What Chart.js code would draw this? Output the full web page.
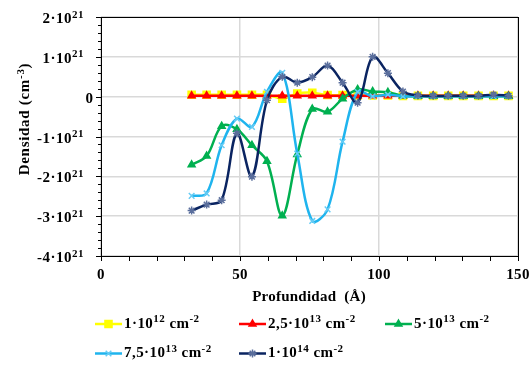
<!DOCTYPE html>
<html lang="es">
<head>
<meta charset="UTF-8">
<title>Densidad vs profundidad</title>
<script src="https://cdn.jsdelivr.net/npm/chart.js"></script>
<style>
  html, body { margin: 0; padding: 0; background: #fff; }
  #wrap { width: 529px; height: 365px; position: relative; }
</style>
</head>
<body>
<div id="wrap"><canvas id="chart" width="529" height="365"></canvas></div>
<script>
// depth in Å (one Si lattice constant apart)
const depth = [32.6, 38.0, 43.4, 48.9, 54.3, 59.7, 65.2, 70.6, 76.0, 81.5, 86.9,
               92.3, 97.7, 103.2, 108.6, 114.0, 119.5, 124.9, 130.3, 135.8, 141.2, 146.6];

// densities in units of 10^21 cm^-3
const dose1e12  = [0.05, 0.05, 0.05, 0.05, 0.05, 0.05, -0.05, 0.08, 0.10, 0.04, 0.04,
                   0.03, 0.03, 0.03, 0.02, 0.02, 0.02, 0.02, 0.02, 0.02, 0.02, 0.02];
const dose25e13 = [0.02, 0.02, 0.02, 0.02, 0.02, 0.02, 0.02, 0.02, 0.02, 0.02, 0.02,
                   0.02, 0.02, 0.02, 0.02, 0.02, 0.02, 0.02, 0.02, 0.02, 0.02, 0.02];
const dose5e13  = [-1.71, -1.49, -0.74, -0.82, -1.22, -1.62, -2.99, -1.45, -0.31, -0.38, -0.05,
                   0.18, 0.13, 0.11, 0.02, 0.01, 0.01, 0.01, 0.01, 0.01, 0.01, 0.01];
const dose75e13 = [-2.49, -2.43, -1.22, -0.55, -0.76, 0.12, 0.60, -1.43, -3.12, -2.83, -1.13,
                   0.12, 0.01, 0.05, 0.01, 0.01, 0.01, 0.01, 0.01, 0.01, 0.01, 0.01];
const dose1e14  = [-2.86, -2.71, -2.60, -0.92, -2.01, -0.09, 0.50, 0.35, 0.49, 0.78, 0.35,
                   -0.15, 1.00, 0.59, 0.13, 0.03, 0.02, 0.02, 0.02, 0.02, 0.05, 0.02];

const xTicks = [0, 50, 100, 150];
const yTicks = [2, 1, 0, -1, -2, -3, -4];

// legend text: [text, superscript] pairs
const legendLabels = [
  [['1·10', ''], ['12', 'sup'], [' cm', ''], ['-2', 'sup']],
  [['2,5·10', ''], ['13', 'sup'], [' cm', ''], ['-2', 'sup']],
  [['5·10', ''], ['13', 'sup'], [' cm', ''], ['-2', 'sup']],
  [['7,5·10', ''], ['13', 'sup'], [' cm', ''], ['-2', 'sup']],
  [['1·10', ''], ['14', 'sup'], [' cm', ''], ['-2', 'sup']]
];

const SERIF = '"Liberation Serif", "Times New Roman", serif';

function pts(ys) {
  return depth.map((x, i) => ({ x: x, y: ys[i] }));
}

const series = [
  { data: dose1e12,  color: '#FFFF00', marker: 'rect',     r: 5,   mColor: '#FFFF00' },
  { data: dose25e13, color: '#FF0000', marker: 'triangle', r: 4,   mColor: '#FF0000' },
  { data: dose5e13,  color: '#00B050', marker: 'triangle', r: 4,   mColor: '#00B050' },
  { data: dose75e13, color: '#1FB4EE', marker: 'crossRot', r: 4,   mColor: '#66CCF5' },
  { data: dose1e14,  color: '#0A2461', marker: 'star',     r: 4,   mColor: '#5A6E9C' }
];

// draws text with superscript runs; returns total width
function drawRich(ctx, parts, x, y, align, size, supSize, spacing) {
  const base = 'bold ' + size + 'px ' + SERIF;
  const sup = 'bold ' + supSize + 'px ' + SERIF;
  ctx.letterSpacing = (spacing || 0) + 'px';
  let w = 0;
  parts.forEach(p => { ctx.font = p[1] ? sup : base; w += ctx.measureText(p[0]).width; });
  let cx = align === 'right' ? x - w : align === 'center' ? x - w / 2 : x;
  ctx.textBaseline = 'alphabetic';
  ctx.textAlign = 'left';
  parts.forEach(p => {
    ctx.font = p[1] ? sup : base;
    const dy = p[1] ? -size * 0.36 : 0;
    ctx.fillText(p[0], cx, y + dy);
    cx += ctx.measureText(p[0]).width;
  });
  ctx.letterSpacing = '0px';
  return w;
}

const decorPlugin = {
  id: 'decor',
  afterDraw(chart) {
    const ctx = chart.ctx;
    const a = chart.chartArea;
    const xs = chart.scales.x, ys = chart.scales.y;
    ctx.save();
    ctx.strokeStyle = '#000';
    ctx.lineWidth = 1;
    ctx.strokeRect(a.left + 0.5, a.top + 0.5, a.right - a.left, a.bottom - a.top);

    // tick marks
    ctx.beginPath();
    for (let v = 0; v <= 150; v += 10) {
      const px = Math.round(xs.getPixelForValue(v)) + 0.5;
      ctx.moveTo(px, a.bottom);
      ctx.lineTo(px, a.bottom + 5);
    }
    for (let k = -20; k <= 10; k++) {
      const py = Math.round(ys.getPixelForValue(k / 5)) + 0.5;
      const len = k % 5 === 0 ? 5 : 3;
      ctx.moveTo(a.left - len, py);
      ctx.lineTo(a.left, py);
    }
    ctx.stroke();

    ctx.fillStyle = '#000';
    // y labels
    yTicks.forEach(v => {
      const py = ys.getPixelForValue(v) + 6;
      if (v === 0) {
        drawRich(ctx, [['0', '']], 93, py, 'right', 15, 11, 0);
      } else {
        drawRich(ctx, [[(v < 0 ? '-' : '') + Math.abs(v) + '·10', ''], ['21', 'sup']], 84, py, 'right', 15, 11, 0.5);
      }
    });
    // x labels
    xTicks.forEach(v => {
      drawRich(ctx, [[String(v), '']], xs.getPixelForValue(v), 279, 'center', 15, 11, 0.3);
    });

    // axis titles
    drawRich(ctx, [['Profundidad  (Å)', '']], 309, 301, 'center', 15, 11, 0.25);
    ctx.save();
    ctx.translate(29, 119);
    ctx.rotate(-Math.PI / 2);
    drawRich(ctx, [['Densidad (cm', ''], ['-3', 'sup'], [')', '']], 0, 0, 'center', 15, 11, 0.7);
    ctx.restore();

    // legend
    const slots = [[95, 327.5], [239, 327.5], [385, 327.5], [95, 357], [239, 357]];
    series.forEach((s, i) => {
      const [lx, ly] = slots[i];
      const cy = ly - 3.5;
      ctx.strokeStyle = s.color;
      ctx.lineWidth = 2.5;
      ctx.beginPath();
      ctx.moveTo(lx, cy);
      ctx.lineTo(lx + 27, cy);
      ctx.stroke();
      ctx.lineWidth = 1.5;
      ctx.strokeStyle = s.mColor;
      ctx.fillStyle = s.mColor;
      Chart.helpers.drawPoint(ctx, { pointStyle: s.marker, radius: s.r, borderWidth: 1.5 }, lx + 13.5, cy);
      ctx.fillStyle = '#000';
      drawRich(ctx, legendLabels[i], lx + 29, ly, 'left', 15, 11, 0.45);
    });
    ctx.restore();
  }
};

new Chart(document.getElementById('chart'), {
  type: 'scatter',
  data: {
    datasets: series.map((s, i) => ({
      data: pts(s.data),
      showLine: true,
      borderColor: s.color,
      backgroundColor: s.mColor,
      pointBorderColor: s.mColor,
      pointBackgroundColor: s.mColor,
      pointStyle: s.marker,
      pointRadius: s.r,
      pointBorderWidth: 1.5,
      borderWidth: 2.5,
      tension: 0.35,
      order: 5 - i
    }))
  },
  options: {
    responsive: false,
    animation: false,
    events: [],
    layout: { padding: { left: 101, top: 17, right: 11, bottom: 109 } },
    plugins: { legend: { display: false }, tooltip: { enabled: false } },
    scales: {
      x: {
        type: 'linear', min: 0, max: 150,
        ticks: { display: false, stepSize: 50 },
        grid: { color: '#D9D9D9', lineWidth: 1.5, drawTicks: false },
        border: { display: false }
      },
      y: {
        type: 'linear', min: -4, max: 2,
        ticks: { display: false, stepSize: 1 },
        grid: { color: '#D9D9D9', lineWidth: 1.5, drawTicks: false },
        border: { display: false }
      }
    }
  },
  plugins: [decorPlugin]
});
</script>
</body>
</html>
